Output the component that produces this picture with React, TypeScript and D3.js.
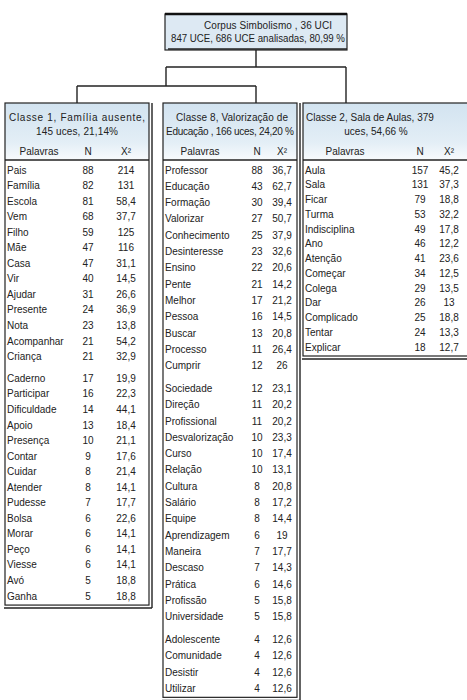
import React from 'react'
import * as d3 from 'd3'

// corpus header
const corpusTitle = 'Corpus Simbolismo , 36 UCI'
const corpusSub = '847 UCE, 686 UCE analisadas, 80,99 %'

// Classe 1
const c1Title = ['Classe 1, Família ausente,', '145 uces, 21,14%']
const c1Words = ['Pais', 'Família', 'Escola', 'Vem', 'Filho', 'Mãe', 'Casa', 'Vir', 'Ajudar', 'Presente', 'Nota', 'Acompanhar', 'Criança',
  'Caderno', 'Participar', 'Dificuldade', 'Apoio', 'Presença', 'Contar', 'Cuidar', 'Atender', 'Pudesse', 'Bolsa', 'Morar', 'Peço', 'Viesse', 'Avó', 'Ganha']
const c1N = [88, 82, 81, 68, 59, 47, 47, 40, 31, 24, 23, 21, 21, 17, 16, 14, 13, 10, 9, 8, 8, 7, 6, 6, 6, 6, 5, 5]
const c1Chi = ['214', '131', '58,4', '37,7', '125', '116', '31,1', '14,5', '26,6', '36,9', '13,8', '54,2', '32,9',
  '19,9', '22,3', '44,1', '18,4', '21,1', '17,6', '21,4', '14,1', '17,7', '22,6', '14,1', '14,1', '14,1', '18,8', '18,8']
const c1Breaks = [13]

// Classe 8
const c8Title = ['Classe 8, Valorização de', 'Educação , 166 uces, 24,20 %']
const c8Words = ['Professor', 'Educação', 'Formação', 'Valorizar', 'Conhecimento', 'Desinteresse', 'Ensino', 'Pente', 'Melhor', 'Pessoa', 'Buscar', 'Processo', 'Cumprir',
  'Sociedade', 'Direção', 'Profissional', 'Desvalorização', 'Curso', 'Relação', 'Cultura', 'Salário', 'Equipe', 'Aprendizagem', 'Maneira', 'Descaso', 'Prática', 'Profissão', 'Universidade',
  'Adolescente', 'Comunidade', 'Desistir', 'Utilizar']
const c8N = [88, 43, 30, 27, 25, 23, 22, 21, 17, 16, 13, 11, 12, 12, 11, 11, 10, 10, 10, 8, 8, 8, 6, 7, 7, 6, 5, 5, 4, 4, 4, 4]
const c8Chi = ['36,7', '62,7', '39,4', '50,7', '37,9', '32,6', '20,6', '14,2', '21,2', '14,5', '20,8', '26,4', '26',
  '23,1', '20,2', '20,2', '23,3', '17,4', '13,1', '20,8', '17,2', '14,4', '19', '17,7', '14,3', '14,6', '15,8', '15,8',
  '12,6', '12,6', '12,6', '12,6']
const c8Breaks = [13, 28]

// Classe 2
const c2Title = ['Classe 2, Sala de Aulas, 379', 'uces, 54,66 %']
const c2Words = ['Aula', 'Sala', 'Ficar', 'Turma', 'Indisciplina', 'Ano', 'Atenção', 'Começar', 'Colega', 'Dar', 'Complicado', 'Tentar', 'Explicar']
const c2N = [157, 131, 79, 53, 49, 46, 41, 34, 29, 26, 25, 24, 18]
const c2Chi = ['45,2', '37,3', '18,8', '32,2', '17,8', '12,2', '23,6', '12,5', '13,5', '13', '18,8', '13,3', '12,7']
const c2Breaks: number[] = []

const FONT = '"Liberation Sans", Arial, sans-serif'
const TOP = 103
const ROW0 = 170
const GAP = 0.4

const slot = (i: number, breaks: number[]) => i + breaks.filter(b => i >= b).length * GAP

interface BoxProps {
  x: number
  w: number
  rowH: number
  title: string[]
  t1: { x: number; len?: number; anchor: 'middle' | 'start' }
  t2: { x: number; len?: number }
  words: string[]
  n: number[]
  chi: string[]
  breaks: number[]
  colP: number
  colN: number
  colX: number
}

const ClassBox: React.FC<BoxProps> = ({ x, w, rowH, title, t1, t2, words, n, chi, breaks, colP, colN, colX }) => {
  // each table in the scan has its own row height
  const rowY = d3.scaleLinear().domain([0, 1]).range([ROW0, ROW0 + rowH])
  const last = slot(words.length - 1, breaks)
  const bottom = rowY(last) + 9
  const h = bottom - TOP
  return (
    <g fontFamily={FONT} fontSize={10} fill="#222">
      <rect x={x} y={TOP} width={w} height={h} fill="#fff" stroke="none" />
      <rect x={x} y={TOP} width={w} height={56} fill="url(#hdr)" />
      <text x={t1.x} y={TOP + 18} textAnchor={t1.anchor} textLength={t1.len} lengthAdjust="spacing">{title[0]}</text>
      <text x={t2.x} y={TOP + 32} textAnchor="middle" textLength={t2.len} lengthAdjust="spacing">{title[1]}</text>
      <text x={x + colP} y={TOP + 52} textAnchor="middle">Palavras</text>
      <text x={x + colN} y={TOP + 52} textAnchor="middle">N</text>
      <text x={x + colX} y={TOP + 52} textAnchor="middle">X²</text>
      <line x1={x} x2={x + w} y1={TOP + 57} y2={TOP + 57} stroke="#222" strokeWidth={1.6} />
      {words.map((wd, i) => {
        const y = rowY(slot(i, breaks)) + 3.5
        return (
          <g key={wd}>
            <text x={x + 2} y={y}>{wd}</text>
            <text x={x + colN} y={y} textAnchor="middle">{n[i]}</text>
            <text x={x + colX} y={y} textAnchor="middle">{chi[i]}</text>
          </g>
        )
      })}
      <rect x={x} y={TOP} width={w} height={h} fill="none" stroke="#222" strokeWidth={1.2} />
      <line x1={x + w + 3} x2={x + w + 3} y1={TOP} y2={bottom + 3} stroke="#222" strokeWidth={1.4} />
      <line x1={x - 1} x2={x + w + 3} y1={bottom + 3} y2={bottom + 3} stroke="#222" strokeWidth={1.4} />
    </g>
  )
}

export default function App() {
  const W = 467
  const H = 700
  const tb = { x: 165, y: 14, w: 182, h: 36 }
  const tcx = tb.x + tb.w / 2
  const b1 = { x: 5, w: 144 }
  const b8 = { x: 163, w: 134 }
  const b2 = { x: 303, w: 180 }
  const c1x = b1.x + b1.w / 2
  return (
    <svg width={W} height={H} style={{ position: 'absolute', left: 0, top: 0, background: '#fff' }}>
      <defs>
        <linearGradient id="hdr" x1="0" y1="0" x2="0" y2="1">
          <stop offset="0" stopColor="#d2e3f0" />
          <stop offset="0.7" stopColor="#e3eef6" />
          <stop offset="1" stopColor="#f7fafc" />
        </linearGradient>
      </defs>
      {/* corpus box */}
      <rect x={tb.x} y={tb.y} width={tb.w} height={tb.h} fill="#dde9f3" stroke="#222" strokeWidth={1.2} />
      <line x1={tb.x} x2={tb.x + tb.w} y1={tb.y} y2={tb.y} stroke="#111" strokeWidth={2.5} />
      <line x1={tb.x + 3} x2={tb.x + tb.w} y1={tb.y + tb.h - 1} y2={tb.y + tb.h - 1} stroke="#222" strokeWidth={1.5} />
      <text x={tcx + 12} y={tb.y + 15} textAnchor="middle" fontFamily={FONT} fontSize={10} fill="#222" textLength={128} lengthAdjust="spacing">{corpusTitle}</text>
      <text x={tcx + 2} y={tb.y + 28} textAnchor="middle" fontFamily={FONT} fontSize={10} fill="#222" textLength={174} lengthAdjust="spacingAndGlyphs">{corpusSub}</text>
      {/* dendrogram connectors */}
      <g stroke="#222" strokeWidth={1.4} fill="none">
        <line x1={tcx} x2={tcx} y1={tb.y + tb.h} y2={67} />
        <line x1={tb.x + 1} x2={tb.x + tb.w - 1} y1={67} y2={67} />
        <line x1={tb.x + tb.w - 1} x2={tb.x + tb.w - 1} y1={67} y2={TOP} />
        <line x1={tb.x + 1} x2={tb.x + 1} y1={67} y2={86} />
        <line x1={c1x} x2={tcx} y1={86} y2={86} />
        <line x1={c1x} x2={c1x} y1={86} y2={TOP} />
        <line x1={tcx} x2={tcx} y1={86} y2={TOP} />
      </g>
      <ClassBox x={b1.x} w={b1.w} rowH={15.55} title={c1Title}
        t1={{ x: b1.x + b1.w / 2, len: 136, anchor: 'middle' }} t2={{ x: b1.x + b1.w / 2, len: 82 }}
        words={c1Words} n={c1N} chi={c1Chi} breaks={c1Breaks} colP={34} colN={83} colX={121} />
      <ClassBox x={b8.x} w={b8.w} rowH={16.3} title={c8Title}
        t1={{ x: b8.x + b8.w / 2 + 2, len: 112, anchor: 'middle' }} t2={{ x: b8.x + b8.w / 2, len: 128 }}
        words={c8Words} n={c8N} chi={c8Chi} breaks={c8Breaks} colP={37} colN={94} colX={119} />
      <ClassBox x={b2.x} w={b2.w} rowH={14.75} title={c2Title}
        t1={{ x: b2.x + 3, anchor: 'start' }} t2={{ x: b2.x + 73 }}
        words={c2Words} n={c2N} chi={c2Chi} breaks={c2Breaks} colP={42} colN={117} colX={146} />
    </svg>
  )
}
